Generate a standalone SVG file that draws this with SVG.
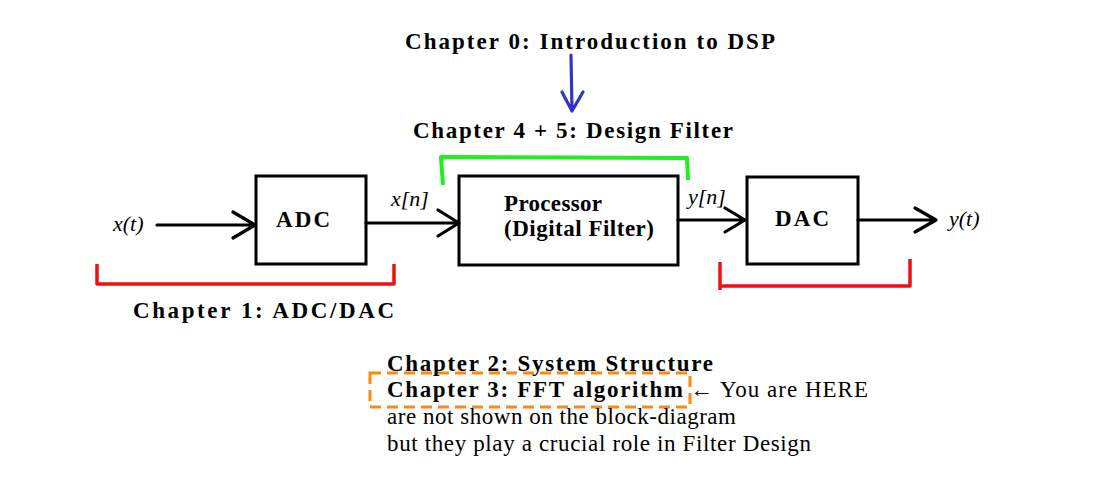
<svg xmlns="http://www.w3.org/2000/svg" width="1109" height="483" viewBox="0 0 1109 483">
<style>
.b{font-family:"Liberation Serif","Times New Roman",serif;font-weight:bold;font-size:23px;fill:#000}
.n{font-family:"Liberation Serif","Times New Roman",serif;font-size:23px;fill:#000}
.i{font-family:"Liberation Serif","Times New Roman",serif;font-style:italic;font-size:22px;fill:#000}
.box{fill:#fff;stroke:#000;stroke-width:3}
.ln{fill:none;stroke:#000;stroke-width:3.2;stroke-linecap:round;stroke-linejoin:round}
</style>
<rect width="1109" height="483" fill="#fff"/>
<g id="ch0">
<text class="b" x="405" y="49" textLength="370" lengthAdjust="spacing">Chapter 0: Introduction to DSP</text>
<path d="M571,55 L572,111 M562,92 L572,111 L583,92" fill="none" stroke="#3333cc" stroke-width="3.2" stroke-linecap="round" stroke-linejoin="round"/>
</g>
<g id="ch45">
<text class="b" x="413" y="138" textLength="320" lengthAdjust="spacing">Chapter 4 + 5: Design Filter</text>
<path d="M443,185 L441,157 L687,158 L688,180" fill="none" stroke="#22ee22" stroke-width="4" stroke-linejoin="round"/>
</g>
<g id="adc">
<rect class="box" x="256" y="176" width="110" height="88"/>
<text class="b" x="276" y="227" font-size="22" textLength="54" lengthAdjust="spacing">ADC</text>
</g>
<g id="processor">
<rect class="box" x="459" y="176" width="219" height="89"/>
<text class="b" x="504" y="211" font-size="20" textLength="98" lengthAdjust="spacing">Processor</text>
<text class="b" x="504" y="236" font-size="20" textLength="150" lengthAdjust="spacing">(Digital Filter)</text>
</g>
<g id="dac">
<rect class="box" x="747" y="177" width="111" height="87"/>
<text class="b" x="775" y="226" font-size="22" textLength="54" lengthAdjust="spacing">DAC</text>
</g>
<g id="connectors">
<path class="ln" d="M157,225 L255,225 M233,212 L255,225 L233,238"/>
<path class="ln" d="M366,223 L459,223 M438,210 L459,223 L438,236"/>
<path class="ln" d="M678,220 L745,220 M725,208 L745,220 L725,232"/>
<path class="ln" d="M858,220 L936,220 M915,208 L936,220 L915,232"/>
</g>
<g id="signals">
<text class="i" x="113" y="231">x(t)</text>
<text class="i" x="391" y="206">x[n]</text>
<text class="i" x="688" y="204">y[n]</text>
<text class="i" x="949" y="226">y(t)</text>
</g>
<g id="ch1">
<path d="M97,264 L97,284 L394,284 L394,264" fill="none" stroke="#ee1111" stroke-width="3.5" stroke-linejoin="round"/>
<path d="M720,262 L720,290 M720,286 L910,286 L910,259" fill="none" stroke="#ee1111" stroke-width="3.5" stroke-linejoin="round"/>
<text class="b" x="133" y="318" textLength="261" lengthAdjust="spacing">Chapter 1: ADC/DAC</text>
</g>
<g id="notes">
<text class="b" x="387" y="371" textLength="326" lengthAdjust="spacing">Chapter 2: System Structure</text>
<rect x="370" y="373" width="320" height="34" fill="none" stroke="#ff8811" stroke-width="3" stroke-dasharray="11,6"/>
<text class="b" x="387" y="397" textLength="296" lengthAdjust="spacing">Chapter 3: FFT algorithm</text>
<text class="n" x="690" y="397" textLength="178" lengthAdjust="spacing">← You are HERE</text>
<text class="n" x="387" y="424" textLength="349" lengthAdjust="spacing">are not shown on the block-diagram</text>
<text class="n" x="387" y="451" textLength="424" lengthAdjust="spacing">but they play a crucial role in Filter Design</text>
</g>
</svg>
